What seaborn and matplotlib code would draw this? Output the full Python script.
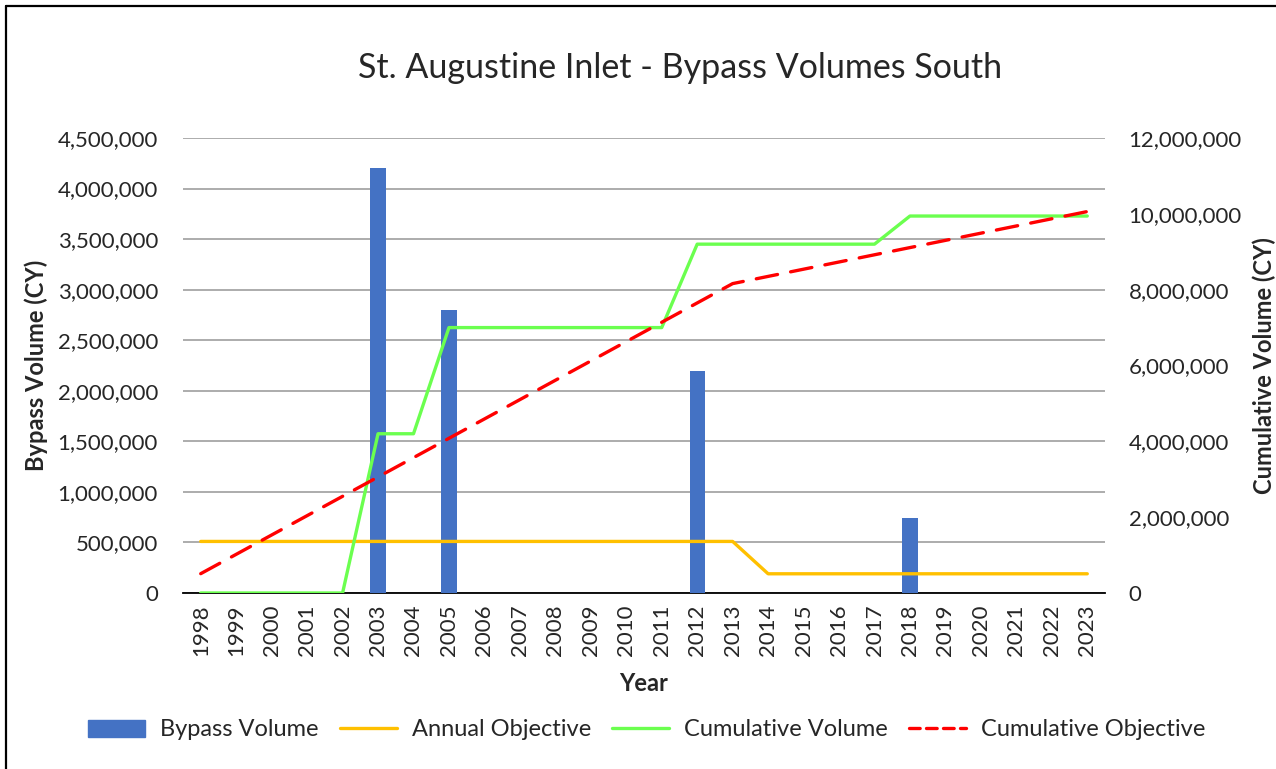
import numpy as np
import pandas as pd
import seaborn as sns
import matplotlib.pyplot as plt
from matplotlib.lines import Line2D
from matplotlib.patches import Patch
from matplotlib.ticker import FuncFormatter, MultipleLocator

# data
years = [str(y) for y in range(1998, 2024)]
bypass_volume = [0, 0, 0, 0, 0, 4200000, 0, 2800000, 0, 0, 0, 0, 0, 0,
                 2200000, 0, 0, 0, 0, 0, 742000, 0, 0, 0, 0, 0]
annual_objective = [510000] * 16 + [190000] * 10
cumulative_volume = [0, 0, 0, 0, 0, 4200000, 4200000, 7000000, 7000000, 7000000,
                     7000000, 7000000, 7000000, 7000000, 9200000, 9200000, 9200000,
                     9200000, 9200000, 9200000, 9942000, 9942000, 9942000, 9942000,
                     9942000, 9942000]
cumulative_objective = [510000, 1020000, 1530000, 2040000, 2550000, 3060000, 3570000,
                        4080000, 4590000, 5100000, 5610000, 6120000, 6630000, 7140000,
                        7650000, 8160000, 8350000, 8540000, 8730000, 8920000, 9110000,
                        9300000, 9490000, 9680000, 9870000, 10060000]

df = pd.DataFrame({'Year': years, 'Bypass': bypass_volume})

sns.set_style('white')
plt.rcParams['font.family'] = ['Lato', 'DejaVu Sans']

BLUE = '#4472C4'
ORANGE = '#FFC000'
GREEN = '#6BFF4F'
RED = '#FF0000'

fig = plt.figure(figsize=(12.76, 7.69), dpi=100)
ax = fig.add_axes([183 / 1276, 1 - 593 / 769, (1105 - 183) / 1276, (593 - 138) / 769])
ax2 = ax.twinx()

sns.barplot(data=df, x='Year', y='Bypass', color=BLUE, width=0.43, saturation=1,
            linewidth=0, ax=ax, zorder=3)
pos = np.arange(len(years))
sns.lineplot(x=pos, y=annual_objective, color=ORANGE, lw=2.4, ax=ax, zorder=4)
sns.lineplot(x=pos, y=cumulative_volume, color=GREEN, lw=2.4, ax=ax2, zorder=5)
sns.lineplot(x=pos, y=cumulative_objective, color=RED, lw=2.4, ax=ax2, zorder=6)
ax2.lines[-1].set_dashes([6.5, 4])
ax2.lines[-1].set_dash_capstyle('round')

ax.set_xlim(-0.5, len(years) - 0.5)
ax.set_ylim(0, 4500000)
ax2.set_ylim(0, 12000000)
ax.yaxis.set_major_locator(MultipleLocator(500000))
ax2.yaxis.set_major_locator(MultipleLocator(2000000))
fmt = FuncFormatter(lambda v, p: f'{int(v):,}')
ax.yaxis.set_major_formatter(fmt)
ax2.yaxis.set_major_formatter(fmt)

ax.grid(axis='y', color='#A6A6A6', lw=1.3, zorder=0)
ax.set_axisbelow(True)
for a in (ax, ax2):
    for s in ('top', 'left', 'right'):
        a.spines[s].set_visible(False)
ax2.spines['bottom'].set_visible(False)
ax.spines['bottom'].set_color('black')
ax.spines['bottom'].set_linewidth(1.3)

ax.set_xticks(pos)
ax.set_xticklabels(years, rotation=90, fontsize=16)
ax.set_xticks(np.arange(-0.5, len(years)), minor=True)
ax.tick_params(axis='x', which='major', length=0, pad=8)
ax.tick_params(axis='x', which='minor', length=7, width=1.3, color='black', direction='out')
ax.tick_params(axis='y', length=0, labelsize=16, pad=18)
ax2.tick_params(axis='y', length=0, labelsize=16, pad=17)

ax.set_xlabel('Year', fontsize=17, fontweight='bold', labelpad=12)
ax.set_ylabel('Bypass Volume (CY)', fontsize=17, fontweight='bold', labelpad=7)
ax2.set_ylabel('Cumulative Volume (CY)', fontsize=17, fontweight='bold', labelpad=8)

fig.text(680 / 1276, 1 - 68 / 769, 'St. Augustine Inlet - Bypass Volumes South',
         ha='center', va='center', fontsize=24.5)

handles = [Patch(color=BLUE),
           Line2D([], [], color=ORANGE, lw=2.4),
           Line2D([], [], color=GREEN, lw=2.4),
           Line2D([], [], color=RED, lw=2.4, dashes=[3.2, 1.9], dash_capstyle='round')]
labels = ['Bypass Volume', 'Annual Objective', 'Cumulative Volume', 'Cumulative Objective']
fig.legend(handles, labels, loc='center', bbox_to_anchor=(647 / 1276, 1 - 730 / 769),
           ncol=4, frameon=False, fontsize=17, handlelength=2.4, handletextpad=0.65,
           columnspacing=0.9)

# outer chart border (left and top edges visible)
fig.add_artist(Line2D([6 / 1276, 6 / 1276], [0, 1 - 6 / 769], color='black', lw=1.6,
                      transform=fig.transFigure))
fig.add_artist(Line2D([6 / 1276, 1], [1 - 6 / 769, 1 - 6 / 769], color='black', lw=1.6,
                      transform=fig.transFigure))

fig.savefig('out.png', dpi=100)
